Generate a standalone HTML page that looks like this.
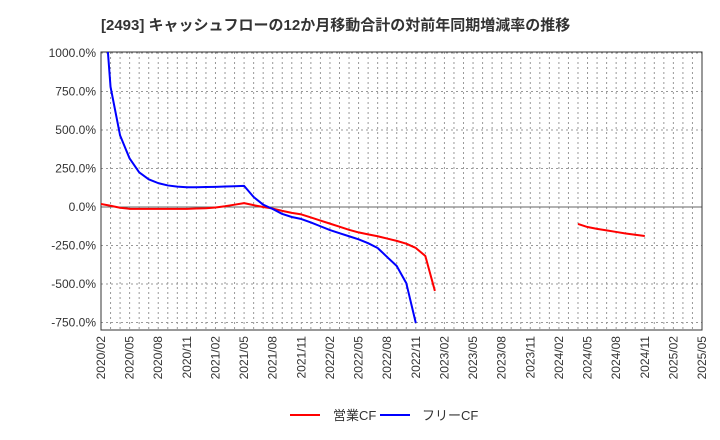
<!DOCTYPE html>
<html><head><meta charset="utf-8"><style>
body{margin:0;background:#fff;}
svg{display:block;font-family:"Liberation Sans","Noto Sans CJK JP",sans-serif;}
</style></head><body>
<svg id="c" width="720" height="440" viewBox="0 0 720 440">
<text x="101" y="30" font-size="15" font-weight="bold" fill="#333">[2493]  キャッシュフローの12か月移動合計の対前年同期増減率の推移</text>
<defs><clipPath id="pc"><rect x="101" y="52" width="601" height="278"/></clipPath></defs>
<g id="grid"></g><g id="axes"></g>
<g id="series" clip-path="url(#pc)"></g>
<g>
<line x1="290" y1="415" x2="320" y2="415" stroke="#f00" stroke-width="2"/>
<text x="333" y="420" font-size="13" fill="#333">営業CF</text>
<line x1="380" y1="415" x2="410" y2="415" stroke="#00f" stroke-width="2"/>
<text x="422" y="420" font-size="13" fill="#333">フリーCF</text>
</g>
</svg>
<script>
const yTicks=[1000,750,500,250,0,-250,-500,-750];
const xLabels=["2020/02","2020/05","2020/08","2020/11","2021/02","2021/05","2021/08","2021/11","2022/02","2022/05","2022/08","2022/11","2023/02","2023/05","2023/08","2023/11","2024/02","2024/05","2024/08","2024/11","2025/02","2025/05"];
const operatingStart=0;
const operatingCF=[20,8,-5,-12,-12,-12,-12,-12,-12,-12,-10,-8,-3,5,15,25,12,0,-10,-25,-38,-48,-68,-88,-108,-128,-148,-165,-178,-190,-205,-220,-238,-266,-318,-545];
const operatingStart2=50;
const operatingCF2=[-110,-130,-142,-152,-162,-172,-180,-188];
const freeStart=0;
const freeCF=[1600,780,465,315,225,180,155,140,132,128,128,130,131,133,135,137,65,15,-13,-45,-65,-78,-100,-125,-150,-170,-190,-210,-235,-266,-325,-383,-494,-753];
const L=101,R=702,T=52,B=330,nMonths=63;
const X=i=>L+i*(R-L)/nMonths;
const Y=v=>207-v*(38.5/250);
const ns="http://www.w3.org/2000/svg";
function mk(tag,attrs,parent){const e=document.createElementNS(ns,tag);for(const k in attrs)e.setAttribute(k,attrs[k]);parent.appendChild(e);return e;}
const grid=document.getElementById('grid'),axes=document.getElementById('axes'),ser=document.getElementById('series');
for(let i=1;i<nMonths;i++){const l=mk('line',{x1:X(i),x2:X(i),y1:T,y2:B,stroke:'#999','stroke-dasharray':'2,3','stroke-width':1},grid);

}
yTicks.forEach(v=>{const l=mk('line',{x1:L,x2:R,y1:Y(v),y2:Y(v),stroke:v===0?'#666':'#999','stroke-dasharray':v===0?'none':'2,3','stroke-width':1},grid);


const t=mk('text',{x:L-5,y:Y(v)+4,'text-anchor':'end','font-size':12,fill:'#333'},axes);
t.textContent=v.toFixed(1)+'%';

});
xLabels.forEach((s,k)=>{const x=X(k*3);const t=mk('text',{x:0,y:0,transform:`translate(${x+4},${B+6}) rotate(-90)`,'text-anchor':'end','font-size':12,fill:'#333'},axes);
t.textContent=s;

});
const fr=mk('rect',{x:L,y:T,width:R-L,height:B-T,fill:'none',stroke:'#333','stroke-width':1},axes);


function line(arr,start,color,name){const p=mk('polyline',{points:arr.map((v,i)=>X(start+i)+','+Y(v)).join(' '),fill:'none',stroke:color,'stroke-width':2,'stroke-linejoin':'round'},ser);

}
line(operatingCF,operatingStart,'#f00','operating-cf-line');
line(operatingCF2,operatingStart2,'#f00','operating-cf-line-2');
line(freeCF,freeStart,'#00f','free-cf-line');
</script>
</body></html>
